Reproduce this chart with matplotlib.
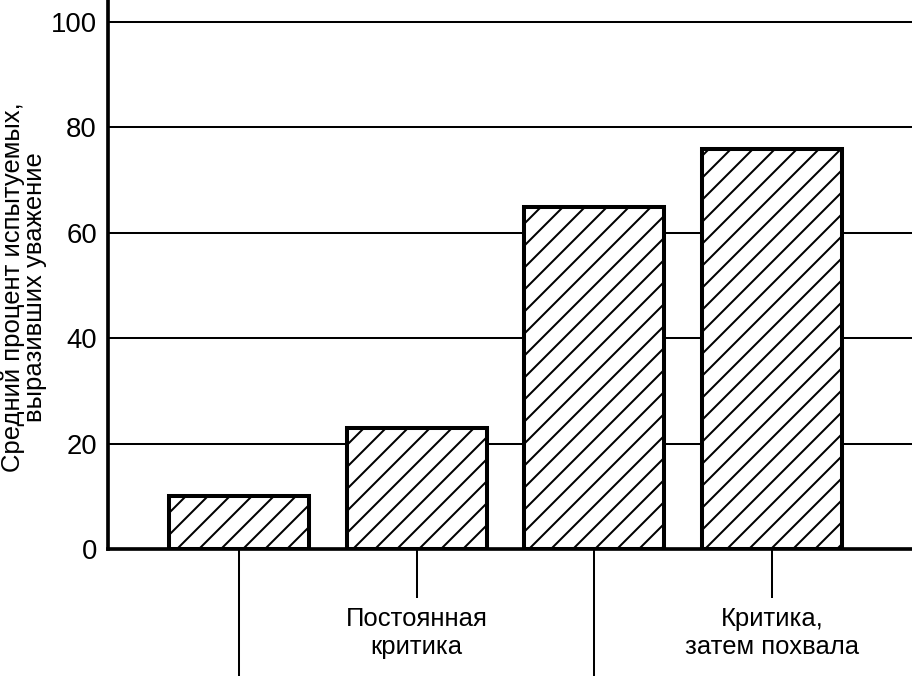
import matplotlib
matplotlib.use("Agg")
import matplotlib.pyplot as plt

# значения
conditions = ["", "Постоянная\nкритика", "", "Критика,\nзатем похвала"]
percents = [10, 23, 65, 76]
y_ticks = [0, 20, 40, 60, 80, 100]

plt.rcParams['font.family'] = ['Liberation Sans', 'DejaVu Sans']
plt.rcParams['hatch.linewidth'] = 1.1

dpi = 132
fig = plt.figure(figsize=(912 / dpi, 676 / dpi), dpi=dpi)
ax = fig.add_axes([0.1184, 0.188, 1 - 0.1184, 0.812])

x = list(range(len(percents)))
ax.bar(x, percents, width=0.79, color='white', edgecolor='black',
       linewidth=2.2, hatch='//', zorder=3)

ax.set_xlim(-0.74, 3.79)
ax.set_ylim(0, 104.2)
ax.set_yticks(y_ticks)
ax.yaxis.grid(True, color='black', linewidth=1.1, zorder=0)
ax.set_axisbelow(True)

ax.spines['top'].set_visible(False)
ax.spines['right'].set_visible(False)
ax.spines['left'].set_linewidth(2.0)
ax.spines['bottom'].set_linewidth(2.0)

ax.tick_params(axis='y', length=0, pad=6, labelsize=15)

# длинные засечки без подписи и короткие с подписью
ax.set_xticks([0, 2])
ax.set_xticklabels(["", ""])
ax.set_xticks([1, 3], minor=True)
ax.set_xticklabels([conditions[1], conditions[3]], minor=True)
ax.tick_params(axis='x', which='major', length=69, width=1.1, direction='out')
ax.tick_params(axis='x', which='minor', length=26.7, width=1.1, direction='out',
               pad=5, labelsize=14)

fig.text(24 / 912, 0.575, "Средний процент испытуемых,\nвыразивших уважение",
         rotation=90, ha='center', va='center', fontsize=14,
         multialignment='center', linespacing=0.9)

fig.savefig("out.png", dpi=dpi)
